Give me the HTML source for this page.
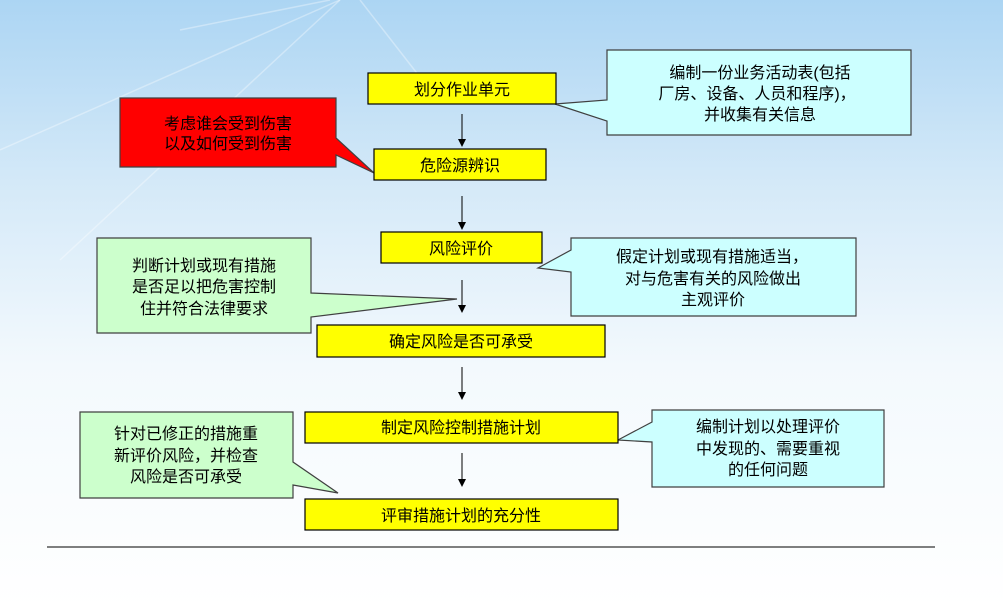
<!DOCTYPE html>
<html><head><meta charset="utf-8"><style>
html,body{margin:0;padding:0;width:1003px;height:608px;overflow:hidden}
svg text{font-family:"Liberation Sans","Noto Sans CJK SC",sans-serif;font-size:16px;fill:#000;text-anchor:middle}
</style></head><body>
<svg width="1003" height="608" viewBox="0 0 1003 608" xmlns="http://www.w3.org/2000/svg">
<defs>
<linearGradient id="bg" x1="0" y1="0" x2="0" y2="1">
<stop offset="0" stop-color="#acd5f3"/>
<stop offset="0.3" stop-color="#d4e9f8"/>
<stop offset="0.6" stop-color="#f3f9fd"/>
<stop offset="1" stop-color="#ffffff"/>
</linearGradient>
<marker id="ar" markerWidth="8" markerHeight="8" refX="7" refY="4" orient="auto" markerUnits="userSpaceOnUse">
<path d="M0,0 L8,4 L0,8 z" fill="#000"/>
</marker>
</defs>
<rect width="1003" height="608" fill="url(#bg)"/>
<g stroke="#fff" stroke-opacity="0.35" stroke-width="1.5">
<line x1="340" y1="0" x2="0" y2="150"/>
<line x1="340" y1="0" x2="60" y2="260"/>
<line x1="360" y1="0" x2="430" y2="90"/>
<line x1="330" y1="0" x2="180" y2="30"/>
</g>
<line x1="47" y1="547" x2="935" y2="547" stroke="#000" stroke-width="1"/>
<g stroke="#000" stroke-width="1">
<line x1="462" y1="114" x2="462" y2="146" marker-end="url(#ar)"/>
<line x1="462" y1="196" x2="462" y2="229" marker-end="url(#ar)"/>
<line x1="462" y1="280" x2="462" y2="312" marker-end="url(#ar)"/>
<line x1="462" y1="367" x2="462" y2="399" marker-end="url(#ar)"/>
<line x1="462" y1="453" x2="462" y2="486" marker-end="url(#ar)"/>
</g>
<g stroke="#404040" stroke-width="1.2">
<path d="M120,98 H336 V138 L374,173 L336,155 V167 H120 Z" fill="#ff0000"/>
<path d="M607,50 H911 V135 H607 V121 L555,104 L607,100 Z" fill="#ccffff"/>
<path d="M97,238 H311 V293 L457,299 L311,317 V333 H97 Z" fill="#ccffcc"/>
<path d="M571,238 H856 V316 H571 V272 L538,268 L571,250 Z" fill="#ccffff"/>
<path d="M80,412 H293 V462 L338,493 L293,485 V498 H80 Z" fill="#ccffcc"/>
<path d="M652,410 H884 V487 H652 V442 L618,440 L652,422 Z" fill="#ccffff"/>
</g>
<g fill="#ffff00" stroke="#000" stroke-width="1.2">
<rect x="368" y="73" width="188" height="31"/>
<rect x="374" y="149" width="172" height="31"/>
<rect x="381" y="232" width="161" height="31"/>
<rect x="317" y="325" width="288" height="32"/>
<rect x="305" y="412" width="313" height="31"/>
<rect x="305" y="499" width="313" height="31"/>
</g>
<text x="462" y="95">划分作业单元</text>
<text x="460" y="171">危险源辨识</text>
<text x="461" y="254">风险评价</text>
<text x="461" y="347">确定风险是否可承受</text>
<text x="461" y="433">制定风险控制措施计划</text>
<text x="461" y="521">评审措施计划的充分性</text>
<text x="228" y="129">考虑谁会受到伤害</text>
<text x="228" y="149">以及如何受到伤害</text>
<text x="760" y="78">编制一份业务活动表(包括</text>
<text x="757" y="99">厂房、设备、人员和程序)，</text>
<text x="760" y="120">并收集有关信息</text>
<text x="204" y="271">判断计划或现有措施</text>
<text x="204" y="292">是否足以把危害控制</text>
<text x="204" y="314">住并符合法律要求</text>
<text x="712" y="262">假定计划或现有措施适当，</text>
<text x="713" y="284">对与危害有关的风险做出</text>
<text x="713" y="305">主观评价</text>
<text x="186" y="439">针对已修正的措施重</text>
<text x="186" y="461">新评价风险，并检查</text>
<text x="186" y="482">风险是否可承受</text>
<text x="768" y="432">编制计划以处理评价</text>
<text x="768" y="454">中发现的、需要重视</text>
<text x="768" y="475">的任何问题</text>
</svg>
</body></html>
